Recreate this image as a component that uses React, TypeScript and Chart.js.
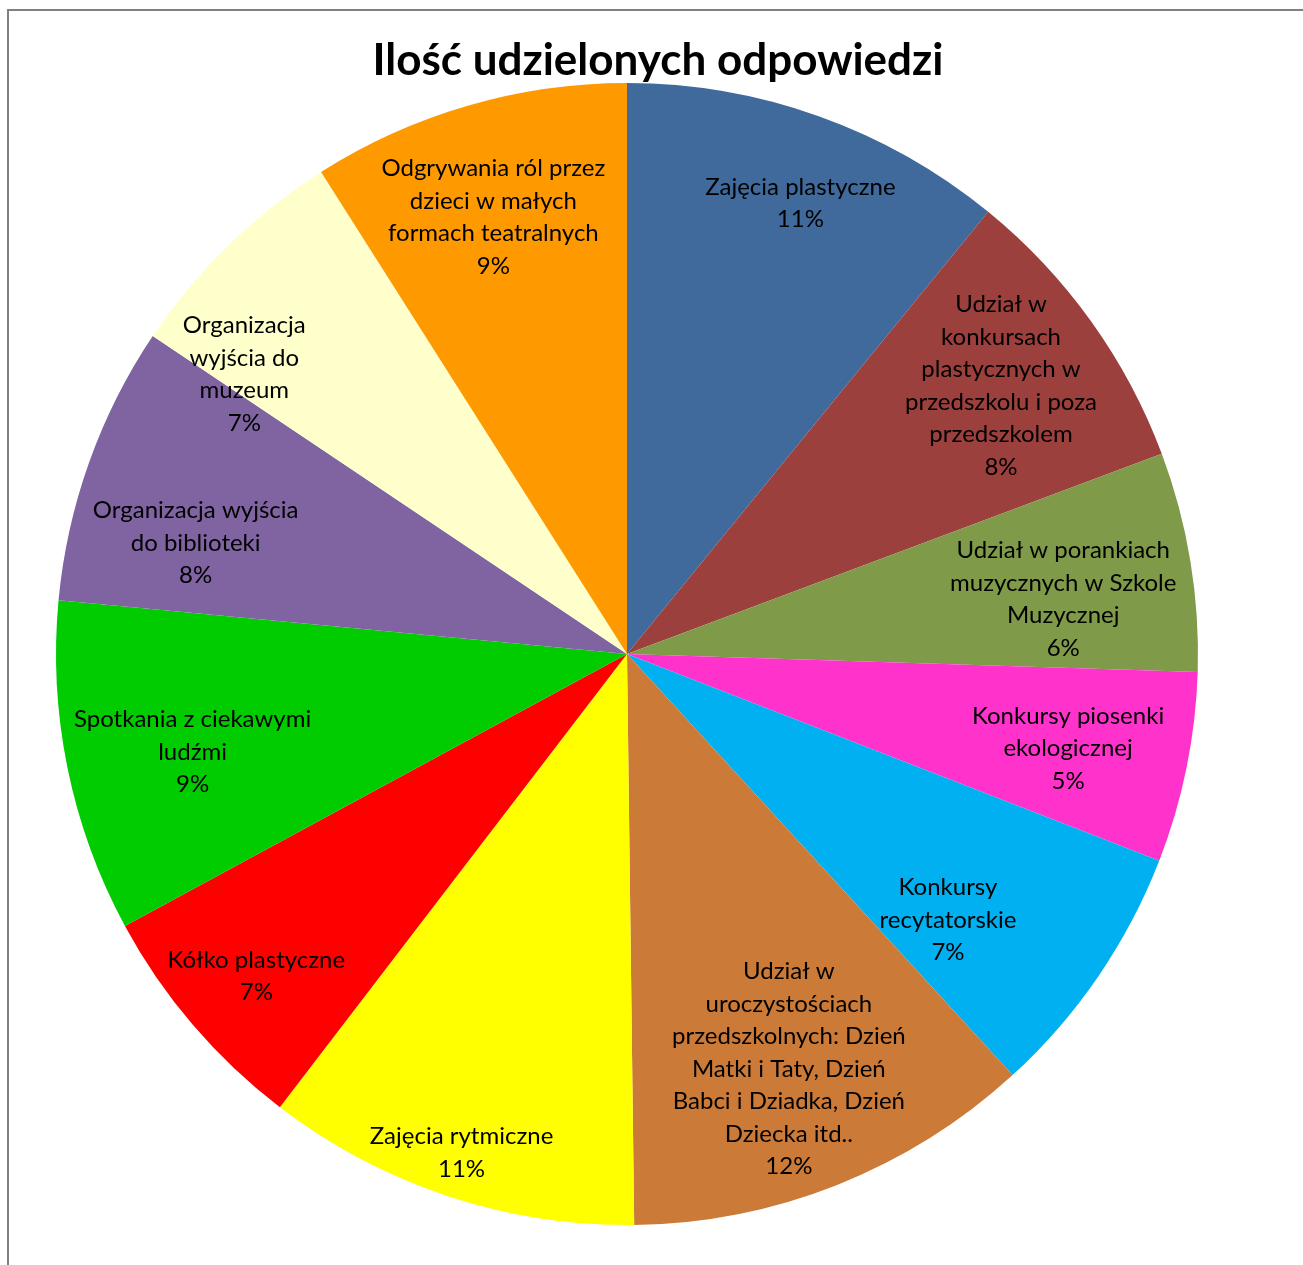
import React, { useEffect, useRef } from "react";
import { Chart, registerables } from "chart.js";

Chart.register(...registerables);

const chartTitle = "Ilość udzielonych odpowiedzi";

const categories = [
  "Zajęcia plastyczne",
  "Udział w\nkonkursach\nplastycznych w\nprzedszkolu i poza\nprzedszkolem",
  "Udział w porankiach\nmuzycznych w Szkole\nMuzycznej",
  "Konkursy piosenki\nekologicznej",
  "Konkursy\nrecytatorskie",
  "Udział w\nuroczystościach\nprzedszkolnych: Dzień\nMatki i Taty, Dzień\nBabci i Dziadka, Dzień\nDziecka itd..",
  "Zajęcia rytmiczne",
  "Kółko plastyczne",
  "Spotkania z ciekawymi\nludźmi",
  "Organizacja wyjścia\ndo biblioteki",
  "Organizacja\nwyjścia do\nmuzeum",
  "Odgrywania ról przez\ndzieci w małych\nformach teatralnych",
];

const values = [10.9, 8.4, 6.2, 5.4, 7.3, 11.6, 10.6, 6.7, 9.4, 7.9, 6.6, 9.0];

const sliceColors = [
  "#3F6A9B",
  "#9C403D",
  "#7F9A48",
  "#FF33CC",
  "#00B0F0",
  "#CC7A37",
  "#FFFF00",
  "#FF0000",
  "#00CC00",
  "#8064A2",
  "#FFFFCC",
  "#FF9900",
];

// label placement inside each slice: [fraction of radius, fraction of slice angle]
const labelPlacement: [number, number][] = [
  [0.846, 0.536],
  [0.806, 0.5],
  [0.77, 0.6],
  [0.79, 0.53],
  [0.73, 0.7],
  [0.78, 0.507],
  [0.92, 0.5],
  [0.86, 0.48],
  [0.78, 0.464],
  [0.78, 0.317],
  [0.83, 0.097],
  [0.8, 0.475],
];

const FONT = "Lato, 'Noto Sans', sans-serif";

const labelPlugin = {
  id: "sliceLabels",
  afterDatasetsDraw(chart: any) {
    const ctx = chart.ctx;
    const meta = chart.getDatasetMeta(0);
    const data = chart.data.datasets[0].data as number[];
    const total = data.reduce((a, b) => a + b, 0);
    ctx.save();
    ctx.fillStyle = "#000000";
    ctx.textAlign = "center";
    ctx.textBaseline = "middle";
    ctx.font = `24px ${FONT}`;
    const lineH = 32.5;
    meta.data.forEach((arc: any, i: number) => {
      const p = arc.getProps(["x", "y", "startAngle", "endAngle", "outerRadius"], true);
      const [rf, af] = labelPlacement[i];
      const a = p.startAngle + af * (p.endAngle - p.startAngle);
      const r = rf * p.outerRadius;
      const cx = p.x + Math.cos(a) * r;
      const cy = p.y + Math.sin(a) * r;
      const lines = String(chart.data.labels[i]).split("\n");
      lines.push(Math.round((data[i] / total) * 100) + "%");
      const n = lines.length;
      lines.forEach((ln: string, k: number) => {
        ctx.fillText(ln, cx, cy + (k - (n - 1) / 2) * lineH);
      });
    });
    ctx.restore();
  },
  afterDraw(chart: any) {
    const ctx = chart.ctx;
    ctx.save();
    ctx.fillStyle = "#000000";
    ctx.textAlign = "center";
    ctx.textBaseline = "alphabetic";
    ctx.font = `bold 44px ${FONT}`;
    ctx.fillText(chartTitle, 649, 64);
    ctx.restore();
  },
};

export default function App() {
  const ref = useRef<HTMLCanvasElement | null>(null);
  useEffect(() => {
    if (!ref.current) return;
    const chart = new Chart(ref.current, {
      type: "pie",
      data: {
        labels: categories,
        datasets: [
          {
            data: values,
            backgroundColor: sliceColors,
            borderWidth: 0,
          },
        ],
      },
      options: {
        animation: false,
        responsive: false,
        layout: { padding: { left: 47, top: 72, right: 105, bottom: 40 } },
        plugins: {
          legend: { display: false },
          title: { display: false },
          tooltip: { enabled: false },
        },
      },
      plugins: [labelPlugin],
    });
    return () => chart.destroy();
  }, []);
  return (
    <div style={{ position: "fixed", left: 0, top: 0, width: "100vw", height: "100vh", overflow: "hidden", background: "#fff" }}>
      <div
        style={{
          position: "absolute",
          left: 7,
          top: 9,
          width: 1320,
          height: 1280,
          border: "2px solid #808080",
          background: "#fff",
        }}
      >
        <canvas ref={ref} width={1294} height={1254} style={{ display: "block", width: 1294, height: 1254 }} />
      </div>
    </div>
  );
}
